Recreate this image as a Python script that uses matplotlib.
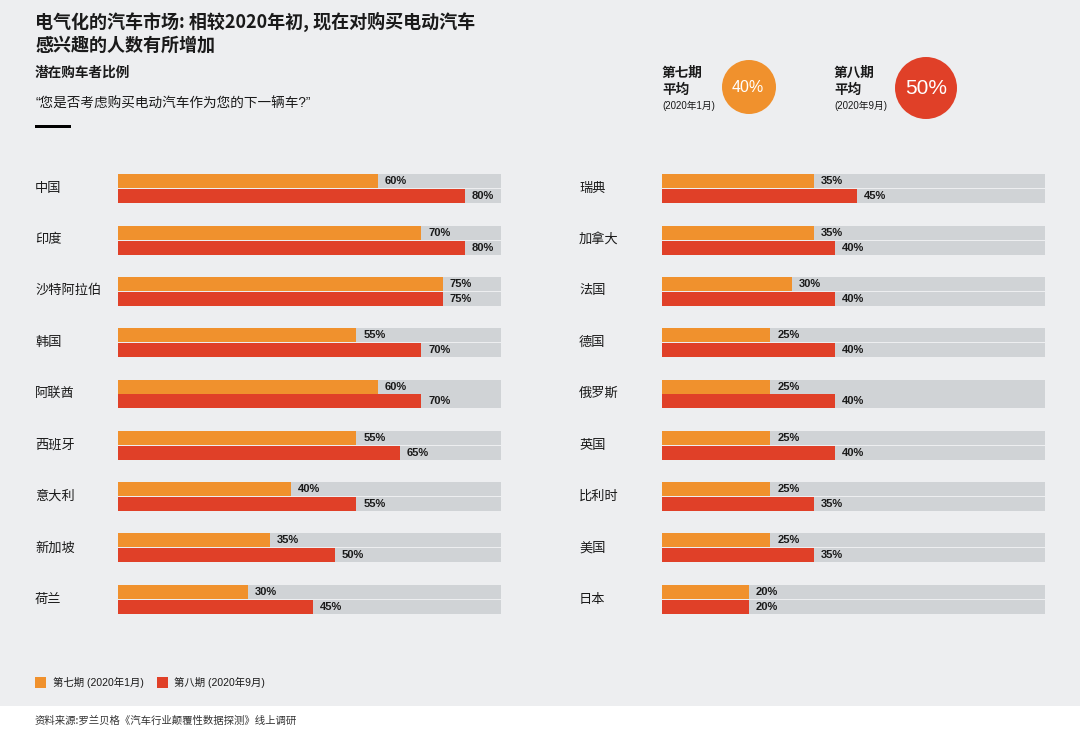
import matplotlib
matplotlib.use("Agg")
import matplotlib.pyplot as plt
from matplotlib.patches import Circle, Rectangle

plt.rcParams['font.family'] = ['Noto Sans CJK SC', 'DejaVu Sans']
MIXED = ['Liberation Sans', 'Noto Sans CJK SC']

# ---------------- data ----------------
left_countries = ["中国", "印度", "沙特阿拉伯", "韩国", "阿联酋", "西班牙", "意大利", "新加坡", "荷兰"]
left_wave7 = [60, 70, 75, 55, 60, 55, 40, 35, 30]
left_wave8 = [80, 80, 75, 70, 70, 65, 55, 50, 45]

right_countries = ["瑞典", "加拿大", "法国", "德国", "俄罗斯", "英国", "比利时", "美国", "日本"]
right_wave7 = [35, 35, 30, 25, 25, 25, 25, 25, 20]
right_wave8 = [45, 40, 40, 40, 40, 40, 35, 35, 20]

avg_wave7 = 40
avg_wave8 = 50

series_names = ["第七期 (2020年1月)", "第八期 (2020年9月)"]

title = "电气化的汽车市场: 相较2020年初, 现在对购买电动汽车\n感兴趣的人数有所增加"
subtitle = "潜在购车者比例"
question = "“您是否考虑购买电动汽车作为您的下一辆车?”"
source = "资料来源:罗兰贝格《汽车行业颠覆性数据探测》线上调研"

# ---------------- style ----------------
W, H = 1080, 735
BG = "#EDEEF0"
ORANGE = "#F0912D"
RED = "#E04028"
TRACK = "#D0D3D6"
TXT = "#1a1a1a"
TRACK_MAX = 88.4

fig = plt.figure(figsize=(W / 100, H / 100), dpi=100, facecolor=BG)

# overlay axes in pixel coords
ov = fig.add_axes([0, 0, 1, 1], zorder=0)
ov.set_xlim(0, W)
ov.set_ylim(H, 0)
ov.axis("off")
ov.patch.set_alpha(0)

# footer white strip
ov.add_patch(Rectangle((0, 706), W, H - 706, facecolor="white", edgecolor="none"))
ov.text(35, 721, source, fontsize=7.5, color="#333333", va="center", ha="left")

# title block
ov.text(35, 33, title, fontsize=13, fontweight="bold", color=TXT, va="center",
        ha="left", linespacing=1.22)
ov.text(35, 73, subtitle, fontsize=9.8, fontweight="bold", color=TXT, va="center", ha="left")
ov.text(35, 104, question, fontsize=9.8, color=TXT, va="center", ha="left", family=MIXED)
ov.add_patch(Rectangle((35, 125), 36, 3, facecolor="black", edgecolor="none"))

# averages
ov.text(662, 73, "第七期", fontsize=9.8, fontweight="bold", color=TXT, va="center", ha="left")
ov.text(662, 90, "平均", fontsize=9.8, fontweight="bold", color=TXT, va="center", ha="left")
ov.text(662, 106, "(2020年1月)", fontsize=7, color=TXT, va="center", ha="left", family=MIXED)
ov.add_patch(Circle((749, 87), 27, facecolor=ORANGE, edgecolor="none"))
ov.text(748, 87.5, f"{avg_wave7}%", fontsize=11.5, color="white", va="center", ha="center",
        family='Liberation Sans')

ov.text(834, 73, "第八期", fontsize=9.8, fontweight="bold", color=TXT, va="center", ha="left")
ov.text(834, 90, "平均", fontsize=9.8, fontweight="bold", color=TXT, va="center", ha="left")
ov.text(834, 106, "(2020年9月)", fontsize=7, color=TXT, va="center", ha="left", family=MIXED)
ov.add_patch(Circle((926, 88), 31, facecolor=RED, edgecolor="none"))
ov.text(926, 88, f"{avg_wave8}%", fontsize=15, color="white", va="center", ha="center",
        family='Liberation Sans')

# legend
ov.add_patch(Rectangle((35, 677), 11, 11, facecolor=ORANGE, edgecolor="none"))
ov.text(53, 682.5, series_names[0], fontsize=7.5, color=TXT, va="center", ha="left", family=MIXED)
ov.add_patch(Rectangle((157, 677), 11, 11, facecolor=RED, edgecolor="none"))
ov.text(174, 682.5, series_names[1], fontsize=7.5, color=TXT, va="center", ha="left", family=MIXED)

# ---------------- panels ----------------
ROW = 51.4
BAR_H = 14 / ROW
OFF = 7.5 / ROW
n = len(left_countries)
top_px, bot_px = 174, 614
pad = 15 / ROW


def panel(x0, countries, v7, v8, label_x):
    x1 = x0 + 383
    ax = fig.add_axes([x0 / W, 1 - bot_px / H, (x1 - x0) / W, (bot_px - top_px) / H], zorder=2)
    ax.set_xlim(0, TRACK_MAX)
    ax.set_ylim(n - 1 + pad, -pad)
    ax.axis("off")
    ax.patch.set_alpha(0)
    ys = list(range(n))
    y7 = [y - OFF for y in ys]
    y8 = [y + OFF for y in ys]
    ax.barh(y7, [TRACK_MAX] * n, height=BAR_H, color=TRACK, edgecolor="none")
    ax.barh(y8, [TRACK_MAX] * n, height=BAR_H, color=TRACK, edgecolor="none")
    ax.barh(y7, v7, height=BAR_H, color=ORANGE, edgecolor="none")
    ax.barh(y8, v8, height=BAR_H, color=RED, edgecolor="none")
    for y, v in zip(y7, v7):
        ax.annotate(f"{v}%", (v, y), xytext=(5, 0), textcoords="offset points",
                    fontsize=8, fontweight="bold", color=TXT, va="center", ha="left",
                    family='Liberation Sans')
    for y, v in zip(y8, v8):
        ax.annotate(f"{v}%", (v, y), xytext=(5, 0), textcoords="offset points",
                    fontsize=8, fontweight="bold", color=TXT, va="center", ha="left",
                    family='Liberation Sans')
    for i, c in enumerate(countries):
        ypx = top_px + 14 + i * ROW
        ov.text(label_x, ypx, c, fontsize=9.5, color=TXT, va="center", ha="left")


panel(118, left_countries, left_wave7, left_wave8, 35)
panel(662, right_countries, right_wave7, right_wave8, 579)

fig.savefig("out.png", dpi=100, facecolor=BG)
